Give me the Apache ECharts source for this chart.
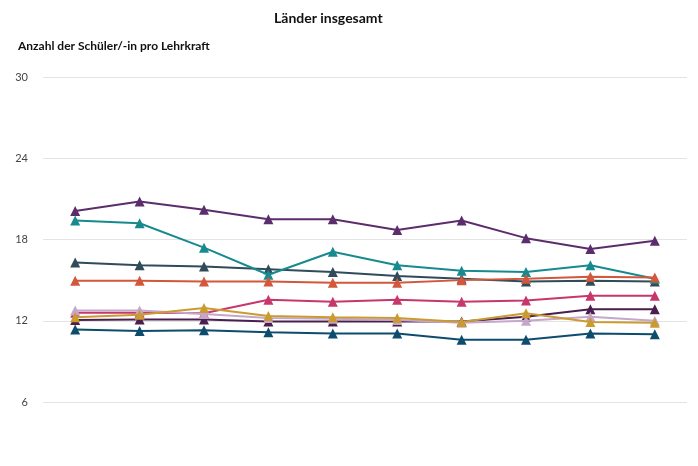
<!DOCTYPE html>
<html>
<head>
<meta charset="utf-8">
<script src="https://cdn.jsdelivr.net/npm/echarts@6/dist/echarts.min.js"></script>
<style>html,body{margin:0;padding:0;background:#fff}#c{width:698px;height:466px}</style>
</head>
<body>
<div id="c"></div>
<script>
const categories = ['2012','2013','2014','2015','2016','2017','2018','2019','2020','2021'];
const yTicks = [6, 12, 18, 24, 30];

const s1 = [20.1, 20.8, 20.2, 19.5, 19.5, 18.7, 19.4, 18.1, 17.3, 17.9];
const s2 = [19.4, 19.2, 17.4, 15.4, 17.1, 16.1, 15.7, 15.6, 16.1, 15.1];
const s3 = [16.3, 16.1, 16.0, 15.8, 15.6, 15.3, 15.1, 14.9, 14.95, 14.9];
const s4 = [14.95, 14.95, 14.9, 14.9, 14.8, 14.8, 15.0, 15.1, 15.25, 15.2];
const s5 = [12.6, 12.6, 12.55, 13.55, 13.4, 13.55, 13.4, 13.5, 13.85, 13.85];
const s6 = [12.75, 12.75, 12.5, 12.2, 12.15, 12.05, 11.85, 12.0, 12.3, 12.0];
const s7 = [12.25, 12.45, 12.95, 12.35, 12.25, 12.2, 11.9, 12.55, 11.9, 11.85];
const s8 = [12.05, 12.1, 12.1, 11.95, 11.95, 11.95, 11.95, 12.3, 12.85, 12.85];
const s9 = [11.35, 11.25, 11.3, 11.15, 11.05, 11.05, 10.6, 10.6, 11.05, 11.0];

const names = ['Reihe 1','Reihe 2','Reihe 3','Reihe 4','Reihe 5','Reihe 6','Reihe 7','Reihe 8','Reihe 9'];
const values = [s1, s2, s3, s4, s5, s6, s7, s8, s9];
const colors = ['#5C2D6C','#178A8F','#304B5A','#D2573B','#C8376B','#C5A7CB','#CA9B30','#4A1E4E','#0D4C6D'];
const layer = [7, 9, 8, 10, 4, 5, 6, 3, 2];

const series = values.map((v, i) => ({
  name: names[i],
  type: 'line',
  data: v,
  symbol: 'triangle',
  symbolSize: 10,
  lineStyle: { width: 2, color: colors[i] },
  itemStyle: { color: colors[i] },
  z: layer[i]
}));

const chart = echarts.init(document.getElementById('c'), null, { renderer: 'canvas' });
chart.setOption({
  animation: false,
  title: {
    text: 'Länder insgesamt',
    left: 269, top: 6,
    textStyle: { fontFamily: 'Lato', fontWeight: 'bold', fontSize: 14, color: '#111' }
  },
  graphic: [{
    type: 'text', left: 18, top: 40,
    style: { text: 'Anzahl der Schüler/-in pro Lehrkraft', font: 'bold 12px Lato', fill: '#111' }
  }],
  grid: { left: 43, right: 11, top: 77, bottom: 64 },
  xAxis: {
    type: 'category', data: categories, boundaryGap: true,
    axisLine: { show: false }, axisTick: { show: false }, axisLabel: { show: false },
    splitLine: { show: false }
  },
  yAxis: {
    type: 'value', min: yTicks[0], max: yTicks[yTicks.length - 1], interval: 6,
    axisLine: { show: false }, axisTick: { show: false },
    axisLabel: { margin: 15, color: '#444', fontFamily: 'Lato', fontSize: 11 },
    splitLine: { lineStyle: { color: '#e4e4e4', width: 1 } }
  },
  series: series
});
</script>
</body>
</html>
